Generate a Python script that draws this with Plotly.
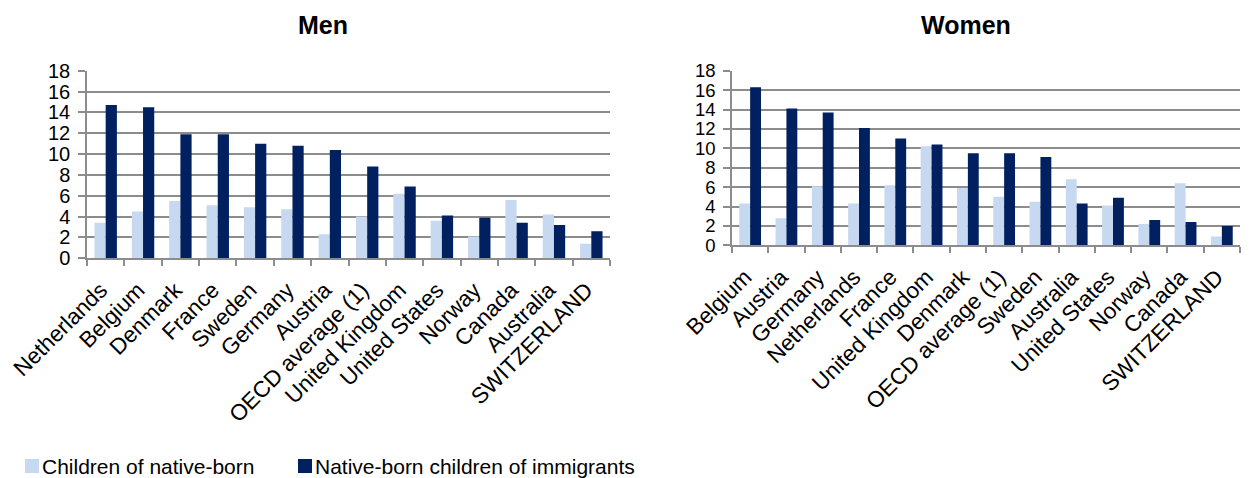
import plotly.graph_objects as go

men_countries = ["Netherlands", "Belgium", "Denmark", "France", "Sweden", "Germany", "Austria",
                 "OECD average (1)", "United Kingdom", "United States", "Norway", "Canada",
                 "Australia", "SWITZERLAND"]
men_native = [3.4, 4.5, 5.5, 5.1, 4.9, 4.7, 2.3, 4.0, 6.2, 3.6, 2.1, 5.6, 4.2, 1.4]
men_immig = [14.7, 14.5, 11.9, 11.9, 11.0, 10.8, 10.4, 8.8, 6.9, 4.1, 3.9, 3.4, 3.2, 2.6]

women_countries = ["Belgium", "Austria", "Germany", "Netherlands", "France", "United Kingdom",
                   "Denmark", "OECD average (1)", "Sweden", "Australia", "United States",
                   "Norway", "Canada", "SWITZERLAND"]
women_native = [4.3, 2.8, 6.1, 4.3, 6.2, 10.2, 5.9, 5.0, 4.5, 6.8, 4.1, 2.2, 6.4, 0.9]
women_immig = [16.3, 14.1, 13.7, 12.1, 11.0, 10.4, 9.5, 9.5, 9.1, 4.3, 4.9, 2.6, 2.4, 2.0]

series_names = ["Children of native-born", "Native-born children of immigrants"]
LIGHT = "#c6d9f1"
DARK = "#002060"
FONT = "Liberation Sans, Arial, sans-serif"
GRID = "#8c8c8c"

fig = go.Figure()
fig.add_trace(go.Bar(x=men_countries, y=men_native, name=series_names[0], marker_color=LIGHT,
                     marker_line_width=0, xaxis="x", yaxis="y"))
fig.add_trace(go.Bar(x=men_countries, y=men_immig, name=series_names[1], marker_color=DARK,
                     marker_line_width=0, xaxis="x", yaxis="y"))
fig.add_trace(go.Bar(x=women_countries, y=women_native, name=series_names[0], marker_color=LIGHT,
                     marker_line_width=0, xaxis="x2", yaxis="y2"))
fig.add_trace(go.Bar(x=women_countries, y=women_immig, name=series_names[1], marker_color=DARK,
                     marker_line_width=0, xaxis="x2", yaxis="y2"))

W, H = 1250, 478
OFF = 8  # page body margin

def px_x(v):
    return (v - OFF) / W

def px_y(v):
    return (H - (v - OFF)) / H

xcommon = dict(type="category", tickangle=-45, showline=True, linecolor=GRID, linewidth=1.5,
               ticks="outside", tickson="boundaries", ticklen=6, tickcolor=GRID, tickwidth=1.5,
               tickfont=dict(family=FONT, size=22.5, color="#000"), showgrid=False,
               automargin=False, fixedrange=True, ticklabelstandoff=8, ticklabelshift=-5)

def ycommon(fs):
    return dict(range=[0, 18], dtick=2, showgrid=True, gridcolor=GRID, gridwidth=1.5,
                showline=True, linecolor=GRID, linewidth=1.5, ticks="outside", ticklen=7,
                tickcolor=GRID, tickwidth=1.5, tickfont=dict(family=FONT, size=fs, color="#000"),
                zeroline=False, fixedrange=True, automargin=False, ticklabelstandoff=4)

# legend (swatch + real text), placed like the reference's legend row
legend_items = [(series_names[0], LIGHT, 25), (series_names[1], DARK, 298)]
shapes = []
annotations = []
for name, color, x0 in legend_items:
    shapes.append(dict(type="rect", xref="paper", yref="paper",
                       x0=px_x(x0), x1=px_x(x0 + 14), y0=px_y(473), y1=px_y(459),
                       fillcolor=color, line=dict(width=0)))
    annotations.append(dict(text=name, x=px_x(x0 + 15), y=px_y(466.5), xref="paper", yref="paper",
                            xanchor="left", yanchor="middle", showarrow=False,
                            font=dict(family=FONT, size=21, color="#000")))

annotations += [
    dict(text="<b>Men</b>", x=px_x(323), y=px_y(25), xref="paper", yref="paper",
         xanchor="center", yanchor="middle",
         showarrow=False, font=dict(family=FONT, size=25, color="#000")),
    dict(text="<b>Women</b>", x=px_x(966), y=px_y(25), xref="paper", yref="paper",
         xanchor="center", yanchor="middle",
         showarrow=False, font=dict(family=FONT, size=25, color="#000")),
]

fig.update_layout(
    template="none",
    width=W, height=H,
    margin=dict(l=0, r=0, t=0, b=0, autoexpand=False),
    paper_bgcolor="white", plot_bgcolor="white",
    barmode="group", bargap=0.4, bargroupgap=0,
    xaxis=dict(domain=[px_x(87), px_x(610)], anchor="y", **xcommon),
    yaxis=dict(domain=[px_y(258.3), px_y(70.7)], anchor="x", **ycommon(20)),
    xaxis2=dict(domain=[px_x(732), px_x(1240)], anchor="y2", **xcommon),
    yaxis2=dict(domain=[px_y(245.3), px_y(70.7)], anchor="x2", **ycommon(18.5)),
    showlegend=False,
    shapes=shapes,
    annotations=annotations,
)

fig.write_html("out.html")
